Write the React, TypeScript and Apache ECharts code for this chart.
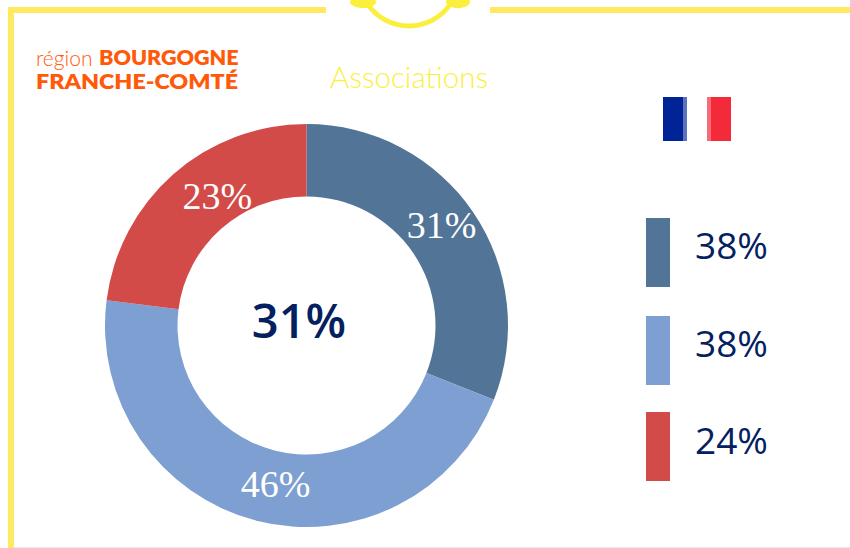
import React, { useEffect, useRef } from "react";
import * as echarts from "echarts";

const sliceNames = ["Segment A", "Segment B", "Segment C"];
const sliceValues = [31, 46, 23];
const sliceColors = ["#527496", "#7E9FD1", "#D24B49"];
const labelOffsets = [[-4, -6], [11, -4], [22, -3]];
const legendValues = ["38%", "38%", "24%"];
const centerValue = "31%";
const title = "Associations";

export default function App() {
  const ref = useRef<HTMLDivElement>(null);
  useEffect(() => {
    const chart = echarts.init(ref.current!, null, { renderer: "svg" });
    const frame = "#FFE95F";
    const yellow = "#FBEF3E";
    const navy = "#04205F";
    const orange = "#FF5A0A";
    const legendGraphics: any[] = [];
    const legendY = [218, 316, 412];
    const legendTextY = [244, 342, 439];
    legendValues.forEach((v, i) => {
      legendGraphics.push({
        type: "rect",
        shape: { x: 646, y: legendY[i], width: 24, height: 69 },
        style: { fill: sliceColors[i] },
      });
      legendGraphics.push({
        type: "text",
        x: 695,
        y: legendTextY[i],
        style: {
          text: v,
          fill: navy,
          font: '37px "Open Sans"',
          textVerticalAlign: "middle",
        },
      });
    });
    chart.setOption({
      animation: false,
      backgroundColor: "#ffffff",
      graphic: [
        { type: "rect", shape: { x: 8, y: 7, width: 318, height: 6 }, style: { fill: frame } },
        { type: "rect", shape: { x: 490, y: 7, width: 360, height: 6 }, style: { fill: frame } },
        { type: "rect", shape: { x: 8, y: 7, width: 6, height: 541 }, style: { fill: frame } },
        { type: "rect", shape: { x: 14, y: 547, width: 836, height: 1 }, style: { fill: "#E9E9E9" } },
        {
          type: "arc",
          shape: { cx: 409, cy: -24, r: 50, startAngle: Math.PI * 0.2, endAngle: Math.PI * 0.8 },
          style: { stroke: yellow, lineWidth: 5, fill: "none" },
        },
        { type: "ellipse", shape: { cx: 363, cy: 2, rx: 13, ry: 6 }, style: { fill: yellow } },
        { type: "ellipse", shape: { cx: 458, cy: 2, rx: 12, ry: 6 }, style: { fill: yellow } },
        { type: "text", x: 36, y: 57, style: { text: "région", fill: orange, font: '300 21px Lato', textVerticalAlign: "middle" } },
        { type: "text", x: 99, y: 57, scaleX: 1.077, originX: 0, style: { text: "BOURGOGNE", fill: orange, font: '800 20px Lato', textVerticalAlign: "middle" } },
        { type: "text", x: 36, y: 82, scaleX: 1.163, originX: 0, style: { text: "FRANCHE-COMTÉ", fill: orange, font: '800 20px Lato', textVerticalAlign: "middle" } },
        { type: "text", x: 409, y: 76, style: { text: title, fill: yellow, font: '300 29.5px Lato', textAlign: "center", textVerticalAlign: "middle" } },
        { type: "rect", shape: { x: 663, y: 97, width: 20, height: 44 }, style: { fill: "#002395" } },
        { type: "rect", shape: { x: 683, y: 97, width: 4, height: 44 }, style: { fill: "#5A72C0" } },
        { type: "rect", shape: { x: 707, y: 97, width: 4, height: 44 }, style: { fill: "#F56B78" } },
        { type: "rect", shape: { x: 711, y: 97, width: 20, height: 44 }, style: { fill: "#F22A3A" } },
        { type: "text", x: 299, y: 320, style: { text: centerValue, fill: navy, font: '600 47px "Open Sans"', textAlign: "center", textVerticalAlign: "middle" } },
        ...legendGraphics,
      ],
      series: [
        {
          type: "pie",
          center: [306.5, 325.5],
          radius: [129, 201.5],
          startAngle: 90,
          clockwise: true,
          silent: true,
          data: sliceValues.map((value, i) => ({
            name: sliceNames[i],
            value,
            itemStyle: { color: sliceColors[i] },
            label: { offset: labelOffsets[i] },
          })),
          label: {
            show: true,
            position: "inside",
            formatter: "{c}%",
            color: "#ffffff",
            fontFamily: '"Liberation Serif"',
            fontSize: 38,
          },
          labelLine: { show: false },
        },
      ],
    });
    return () => chart.dispose();
  }, []);
  return <div ref={ref} style={{ position: "absolute", left: 0, top: 0, width: 850, height: 548 }} />;
}
